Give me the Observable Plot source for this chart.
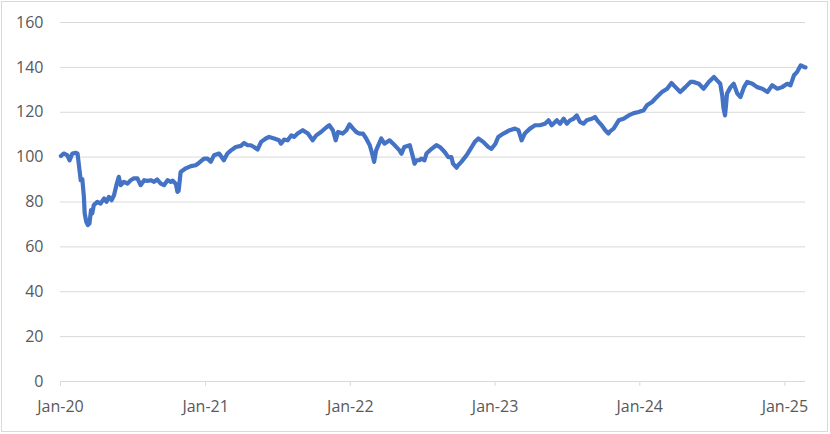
<!DOCTYPE html>
<html><head><meta charset="utf-8">
<script src="https://cdn.jsdelivr.net/npm/d3@7"></script>
<script src="https://cdn.jsdelivr.net/npm/@observablehq/plot@0.6"></script>
<style>
body{margin:0;background:#fff;}
#wrap{position:relative;width:830px;height:434px;overflow:hidden;}
#wrap svg{position:absolute;left:0;top:0;}
#frame{position:absolute;left:1px;top:1px;width:827px;height:431px;border:1px solid #d9d9d9;box-sizing:border-box;pointer-events:none;}
</style></head><body><div id="wrap"><div id="frame"></div></div>
<script>
const dates = [
"2020-01-02","2020-01-09","2020-01-18","2020-01-24","2020-01-31","2020-02-08","2020-02-13","2020-02-16","2020-02-21","2020-02-25",
"2020-02-29","2020-03-02","2020-03-06","2020-03-10","2020-03-14","2020-03-18","2020-03-21","2020-03-25","2020-04-03","2020-04-11",
"2020-04-20","2020-04-26","2020-05-02","2020-05-09","2020-05-15","2020-05-21","2020-05-27","2020-06-01","2020-06-09","2020-06-18",
"2020-06-26","2020-07-04","2020-07-13","2020-07-21","2020-07-30","2020-08-07","2020-08-16","2020-08-24","2020-09-01","2020-09-10",
"2020-09-18","2020-09-27","2020-10-05","2020-10-10","2020-10-18","2020-10-22","2020-10-25","2020-10-30","2020-11-12","2020-11-25",
"2020-12-07","2020-12-15","2020-12-28","2021-01-06","2021-01-14","2021-01-22","2021-02-04","2021-02-09","2021-02-16","2021-02-25",
"2021-03-06","2021-03-18","2021-03-31","2021-04-08","2021-04-17","2021-04-25","2021-05-03","2021-05-12","2021-05-21","2021-06-02",
"2021-06-10","2021-06-23","2021-07-05","2021-07-10","2021-07-18","2021-07-27","2021-08-05","2021-08-12","2021-08-21","2021-09-03",
"2021-09-16","2021-09-28","2021-10-07","2021-10-19","2021-11-01","2021-11-09","2021-11-18","2021-11-25","2021-12-01","2021-12-13",
"2021-12-22","2021-12-30","2022-01-08","2022-01-16","2022-01-24","2022-02-02","2022-02-10","2022-02-19","2022-02-25","2022-03-02",
"2022-03-07","2022-03-20","2022-03-28","2022-04-10","2022-04-19","2022-05-05","2022-05-10","2022-05-17","2022-05-31","2022-06-08",
"2022-06-12","2022-06-17","2022-06-24","2022-06-29","2022-07-07","2022-07-12","2022-07-25","2022-08-06","2022-08-15","2022-08-27",
"2022-09-05","2022-09-13","2022-09-17","2022-09-26","2022-09-30","2022-10-08","2022-10-21","2022-11-03","2022-11-11","2022-11-20",
"2022-12-02","2022-12-15","2022-12-23","2023-01-02","2023-01-09","2023-01-22","2023-02-07","2023-02-20","2023-03-01","2023-03-09",
"2023-03-17","2023-03-30","2023-04-12","2023-04-24","2023-05-07","2023-05-16","2023-05-24","2023-06-06","2023-06-14","2023-06-23",
"2023-07-01","2023-07-09","2023-07-18","2023-07-26","2023-08-03","2023-08-12","2023-08-20","2023-09-02","2023-09-10","2023-09-19",
"2023-09-27","2023-10-06","2023-10-14","2023-10-18","2023-10-27","2023-11-09","2023-11-21","2023-12-04","2023-12-17","2023-12-29",
"2024-01-11","2024-01-19","2024-02-01","2024-02-13","2024-02-26","2024-03-10","2024-03-21","2024-03-31","2024-04-12","2024-04-25",
"2024-05-08","2024-05-16","2024-05-29","2024-06-10","2024-06-23","2024-07-06","2024-07-14","2024-07-22","2024-07-27","2024-07-30",
"2024-08-03","2024-08-06","2024-08-08","2024-08-17","2024-08-25","2024-09-03","2024-09-11","2024-09-20","2024-09-28","2024-10-11",
"2024-10-23","2024-11-05","2024-11-18","2024-11-30","2024-12-13","2024-12-25","2025-01-07","2025-01-15","2025-01-24","2025-02-01",
"2025-02-10","2025-02-18","2025-02-22"
];
const values = [
100.5,101.6,100.9,98.6,101.6,101.9,101.6,97.1,89.7,90.2,
82.3,74.9,71.2,69.7,70.4,76.4,74.9,78.6,80.1,79.3,
81.6,80.1,82.3,80.8,83.0,87.5,91.2,87.5,89.0,88.2,
89.7,90.5,90.5,87.5,89.7,89.4,89.7,89.0,90.0,88.2,
87.5,89.7,89.0,89.5,88.0,84.5,85.0,93.4,95.0,96.0,
96.4,97.4,99.3,99.3,97.9,100.8,101.6,100.4,98.6,101.6,
103.0,104.5,105.0,106.3,105.3,105.3,104.5,103.4,106.8,108.3,
109.0,108.3,107.5,106.0,107.8,107.5,109.7,109.0,110.5,112.0,
110.5,107.5,109.7,111.2,113.2,114.2,112.0,107.5,111.2,110.5,
112.0,114.6,112.7,111.2,110.5,110.5,108.3,105.3,101.6,97.9,
103.0,108.3,106.0,107.5,106.0,103.0,101.5,104.5,105.3,100.0,
97.1,98.6,98.6,99.3,98.6,101.6,103.7,105.3,104.5,102.3,
100.0,100.0,97.1,95.3,96.4,97.9,100.8,104.5,106.8,108.3,
106.8,104.5,103.7,106.0,109.0,110.5,112.0,112.7,112.0,107.5,
110.5,112.7,114.2,114.2,114.9,116.4,114.2,116.4,114.9,117.1,
114.9,116.4,117.1,118.6,115.7,114.9,116.4,117.1,117.9,115.7,
114.2,112.0,110.5,111.5,112.7,116.4,117.1,118.6,119.6,120.1,
120.9,123.1,124.6,126.8,129.0,130.5,133.0,131.2,129.0,131.2,
133.5,133.5,132.7,130.5,133.5,135.7,134.2,132.7,127.5,122.0,
118.6,124.0,128.3,131.2,132.7,128.3,126.8,131.2,133.5,132.7,
131.2,130.5,129.0,132.0,130.5,131.2,132.7,132.0,136.5,138.0,
140.9,140.2,140.0
];
const yTicks = [0, 20, 40, 60, 80, 100, 120, 140, 160];
const xTicks = ["2020-01-01","2021-01-01","2022-01-01","2023-01-01","2024-01-01","2025-01-01"];
const xDomain = ["2020-01-01","2025-02-22"];

const data = dates.map((d, i) => ({date: new Date(d), value: values[i]}));

const chart = Plot.plot({
  width: 830,
  height: 434,
  marginLeft: 60,
  marginRight: 25,
  marginTop: 22,
  marginBottom: 53,
  style: {fontFamily: "'Open Sans', sans-serif", fontSize: "16px", color: "#595959", background: "transparent"},
  x: {type: "utc", domain: xDomain.map(d => new Date(d)), label: null},
  y: {domain: [0, 160], label: null},
  marks: [
    Plot.gridY(yTicks, {stroke: "#d9d9d9", strokeOpacity: 1}),
    Plot.ruleY([0], {stroke: "#d9d9d9", strokeWidth: 1.2}),
    Plot.axisY(yTicks, {tickSize: 0, tickPadding: 17, fill: "#595959", label: null}),
    Plot.axisX(xTicks.map(d => new Date(d)), {tickSize: 5, tickPadding: 14, stroke: "#d9d9d9", fill: "#595959", tickFormat: d3.utcFormat("%b-%y"), label: null}),
    Plot.line(data, {x: "date", y: "value", stroke: "#4472C4", strokeWidth: 4.2, strokeLinejoin: "round", strokeLinecap: "round"})
  ]
});
document.getElementById("wrap").prepend(chart);
</script>
</body></html>
